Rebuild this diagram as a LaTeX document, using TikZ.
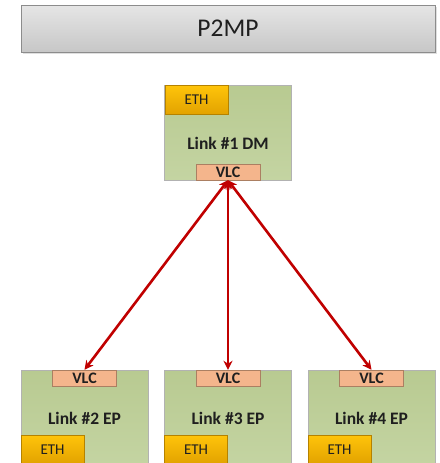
\documentclass[tikz,border=0pt]{standalone}
\usepackage{fontspec}
\setmainfont{Carlito}
\usetikzlibrary{arrows.meta,shadows}
\definecolor{boxgreen}{RGB}{184,202,145}
\definecolor{boxgreenlow}{RGB}{196,212,162}
\definecolor{ethtop}{RGB}{255,196,10}
\definecolor{ethlow}{RGB}{226,162,0}
\definecolor{vlcfill}{RGB}{244,181,140}
\definecolor{linkred}{RGB}{192,0,0}
\tikzset{
	titlebox/.style={draw=black!45, top color=black!10, bottom color=black!22, minimum width=414pt, minimum height=47pt, font=\fontsize{25.5}{28}\selectfont, drop shadow={opacity=0.25, shadow xshift=1.5pt, shadow yshift=-1.5pt}},
	linkbox/.style={draw=black!30, top color=boxgreen, bottom color=boxgreenlow, minimum width=127pt, minimum height=95pt, inner sep=0pt},
	ethbox/.style={draw=ethlow!80!black, top color=ethtop, bottom color=ethlow, minimum width=63pt, minimum height=29pt, inner sep=0pt, font=\fontsize{15}{16}\selectfont},
	vlcbox/.style={draw=vlcfill!70!black, fill=vlcfill, minimum width=64pt, minimum height=16pt, inner sep=0pt, font=\bfseries\fontsize{16}{16}\selectfont},
	linktext/.style={font=\bfseries\fontsize{17.5}{19}\selectfont},
	link/.style={linkred, line width=2.6pt, {Stealth[length=9pt,width=9pt]}-{Stealth[length=9pt,width=9pt]}}
}
\begin{document}
\begin{tikzpicture}[x=1pt,y=-1pt,text=black!88]
	\useasboundingbox (0,0) rectangle (439,463);
	\clip (0,0) rectangle (439,463);
	\node[titlebox](title) at (228,28.5){P2MP};
	\node[linkbox](dm) at (228,132.5){};
	\node[ethbox](dmeth) at (196.5,100){ETH};
	\node[linktext](dmtext) at (228,143){Link \#1 DM};
	\node[vlcbox](dmvlc) at (228,172){VLC};
	\node[linkbox](ep2) at (84.5,417.5){};
	\node[linkbox](ep3) at (228,417.5){};
	\node[linkbox](ep4) at (371.5,417.5){};
	\node[vlcbox](ep2vlc) at (84.5,378){VLC};
	\node[vlcbox](ep3vlc) at (228,378){VLC};
	\node[vlcbox](ep4vlc) at (371.5,378){VLC};
	\node[linktext](ep2text) at (84.5,418){Link \#2 EP};
	\node[linktext](ep3text) at (228,418){Link \#3 EP};
	\node[linktext](ep4text) at (371.5,418){Link \#4 EP};
	\node[ethbox](ep2eth) at (52.5,449.5){ETH};
	\node[ethbox](ep3eth) at (196,449.5){ETH};
	\node[ethbox](ep4eth) at (339.5,449.5){ETH};
		\draw[link](dmvlc.south) to (ep2vlc.north);
		\draw[link](dmvlc.south) to (ep3vlc.north);
		\draw[link](dmvlc.south) to (ep4vlc.north);
\end{tikzpicture}
\end{document}
